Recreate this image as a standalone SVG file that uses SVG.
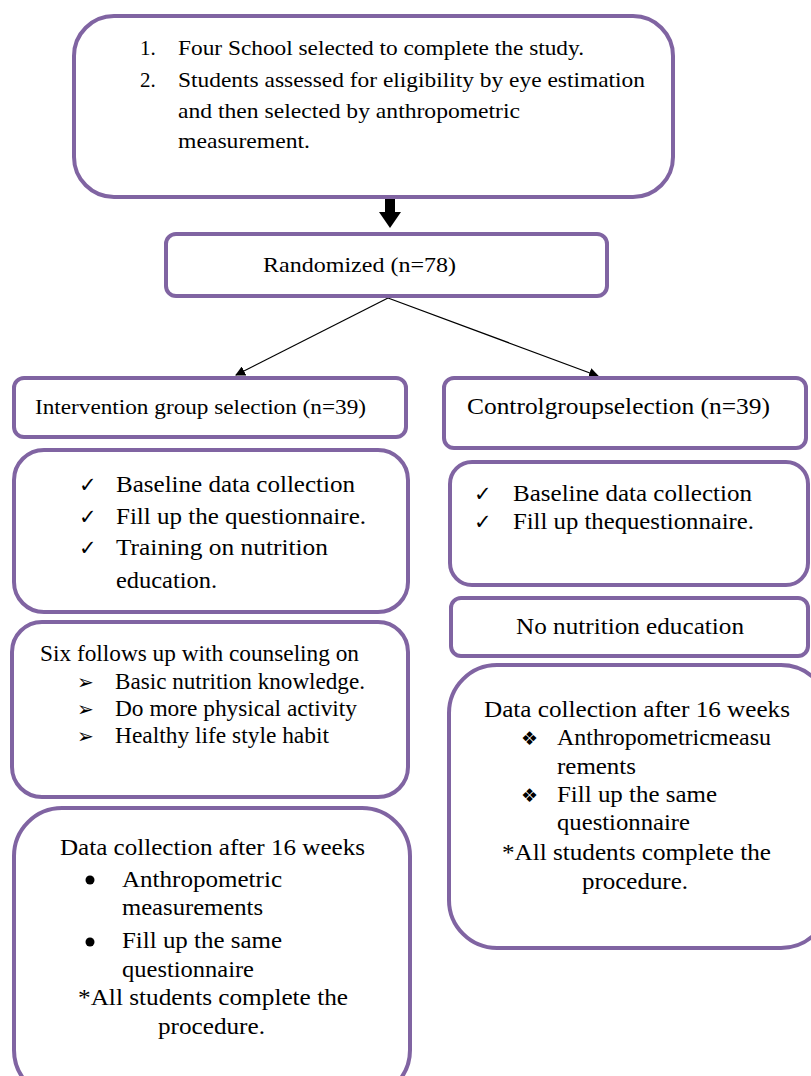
<svg xmlns="http://www.w3.org/2000/svg" width="811" height="1076" viewBox="0 0 811 1076">
<style>
.box{fill:#fff;stroke:#8064A2;stroke-width:4}
.t{font-family:"Liberation Serif","Times New Roman",serif;fill:#000;font-size:24px}
.c{font-family:"Liberation Serif","Times New Roman",serif;fill:#000;font-size:21px}
.sym{font-family:"DejaVu Sans",sans-serif;fill:#000}
.con{stroke:#000;stroke-width:1.3;fill:none}
</style>
<defs>
<marker id="ah" viewBox="0 0 10 10" refX="9" refY="5" markerWidth="10" markerHeight="10" markerUnits="userSpaceOnUse" orient="auto">
<path d="M0,0 L10,5 L0,10 z" fill="#000"/>
</marker>
</defs>
<rect width="811" height="1076" fill="#fff"/>

<g id="connectors">
<path d="M385,198 H395 V212 H401 L390,228 L379,212 H385 Z" fill="#000"/>
<line class="con" x1="388" y1="298" x2="236" y2="375" marker-end="url(#ah)"/>
<line class="con" x1="388" y1="298" x2="598" y2="376" marker-end="url(#ah)"/>
</g>

<g id="n_start">
<rect class="box" x="74" y="16" width="599" height="181" rx="40"/>
<text class="c" x="140" y="55">1.</text>
<text class="c" x="178" y="55" textLength="406" lengthAdjust="spacingAndGlyphs">Four School selected to complete the study.</text>
<text class="c" x="140" y="87">2.</text>
<text class="c" x="178" y="87" textLength="467" lengthAdjust="spacingAndGlyphs">Students assessed for eligibility  by eye estimation</text>
<text class="c" x="178" y="118" textLength="342" lengthAdjust="spacingAndGlyphs">and then selected by anthropometric</text>
<text class="c" x="178" y="148" textLength="132" lengthAdjust="spacingAndGlyphs">measurement.</text>
</g>

<g id="n_random">
<rect class="box" x="166" y="234" width="441" height="62" rx="10"/>
<text class="c" x="263" y="272" textLength="193" lengthAdjust="spacingAndGlyphs">Randomized (n=78)</text>
</g>

<g id="n_int_sel">
<rect class="box" x="14" y="378" width="392" height="59" rx="10"/>
<text class="c" x="35" y="414" textLength="331" lengthAdjust="spacingAndGlyphs">Intervention group selection (n=39)</text>
</g>

<g id="n_ctl_sel">
<rect class="box" x="444" y="378" width="362" height="70" rx="10"/>
<text class="t" x="467" y="414" textLength="303" lengthAdjust="spacingAndGlyphs">Controlgroupselection  (n=39)</text>
</g>

<g id="n_int_base">
<rect class="box" x="14" y="450" width="394" height="162" rx="30"/>
<text class="sym" x="79" y="492" font-size="21">✓</text>
<text class="t" x="116" y="492" textLength="239" lengthAdjust="spacingAndGlyphs">Baseline data collection</text>
<text class="sym" x="79" y="524" font-size="21">✓</text>
<text class="t" x="116" y="524" textLength="250" lengthAdjust="spacingAndGlyphs">Fill up the questionnaire.</text>
<text class="sym" x="79" y="555" font-size="21">✓</text>
<text class="t" x="116" y="555" textLength="212" lengthAdjust="spacingAndGlyphs">Training on nutrition</text>
<text class="t" x="116" y="588" textLength="101" lengthAdjust="spacingAndGlyphs">education.</text>
</g>

<g id="n_ctl_base">
<rect class="box" x="450" y="462" width="358" height="123" rx="22"/>
<text class="sym" x="474" y="501" font-size="21">✓</text>
<text class="t" x="513" y="501" textLength="239" lengthAdjust="spacingAndGlyphs">Baseline data collection</text>
<text class="sym" x="474" y="529" font-size="21">✓</text>
<text class="t" x="513" y="529" textLength="241" lengthAdjust="spacingAndGlyphs">Fill up thequestionnaire.</text>
</g>

<g id="n_no_edu">
<rect class="box" x="451" y="598" width="357" height="58" rx="10"/>
<text class="t" x="516" y="634" textLength="228" lengthAdjust="spacingAndGlyphs">No nutrition education</text>
</g>

<g id="n_counsel">
<rect class="box" x="12" y="622" width="396" height="175" rx="30"/>
<text class="t" x="40" y="661" textLength="319" lengthAdjust="spacingAndGlyphs">Six follows up with counseling on</text>
<text class="sym" x="77" y="689" font-size="20">➢</text>
<text class="t" x="115" y="689" font-size="23" textLength="250" lengthAdjust="spacingAndGlyphs">Basic nutrition knowledge.</text>
<text class="sym" x="77" y="716" font-size="20">➢</text>
<text class="t" x="115" y="716" font-size="23" textLength="242" lengthAdjust="spacingAndGlyphs">Do more physical activity</text>
<text class="sym" x="77" y="743" font-size="20">➢</text>
<text class="t" x="115" y="743" font-size="23" textLength="214" lengthAdjust="spacingAndGlyphs">Healthy life style habit</text>
</g>

<g id="n_int_data">
<rect class="box" x="14" y="808" width="396" height="290" rx="48"/>
<text class="t" x="60" y="855" textLength="305" lengthAdjust="spacingAndGlyphs">Data collection after 16 weeks</text>
<circle cx="90" cy="880" r="4.5" fill="#000"/>
<text class="t" x="122" y="887" textLength="160" lengthAdjust="spacingAndGlyphs">Anthropometric</text>
<text class="t" x="122" y="915" textLength="141" lengthAdjust="spacingAndGlyphs">measurements</text>
<circle cx="90" cy="942" r="4.5" fill="#000"/>
<text class="t" x="122" y="948" textLength="160" lengthAdjust="spacingAndGlyphs">Fill up the same</text>
<text class="t" x="122" y="977" textLength="132" lengthAdjust="spacingAndGlyphs">questionnaire</text>
<text class="t" x="78" y="1005" textLength="270" lengthAdjust="spacingAndGlyphs">*All students complete the</text>
<text class="t" x="158" y="1034" textLength="107" lengthAdjust="spacingAndGlyphs">procedure.</text>
</g>

<g id="n_ctl_data">
<rect class="box" x="449" y="665" width="380" height="283" rx="48"/>
<text class="t" x="484" y="717" textLength="306" lengthAdjust="spacingAndGlyphs">Data collection after 16 weeks</text>
<text class="sym" x="521" y="745" font-size="19">❖</text>
<text class="t" x="557" y="745" textLength="214" lengthAdjust="spacingAndGlyphs">Anthropometricmeasu</text>
<text class="t" x="557" y="774" textLength="79" lengthAdjust="spacingAndGlyphs">rements</text>
<text class="sym" x="521" y="802" font-size="19">❖</text>
<text class="t" x="557" y="802" textLength="160" lengthAdjust="spacingAndGlyphs">Fill up the same</text>
<text class="t" x="557" y="830" textLength="133" lengthAdjust="spacingAndGlyphs">questionnaire</text>
<text class="t" x="502" y="860" textLength="269" lengthAdjust="spacingAndGlyphs">*All students complete the</text>
<text class="t" x="582" y="889" textLength="106" lengthAdjust="spacingAndGlyphs">procedure.</text>
</g>
</svg>
